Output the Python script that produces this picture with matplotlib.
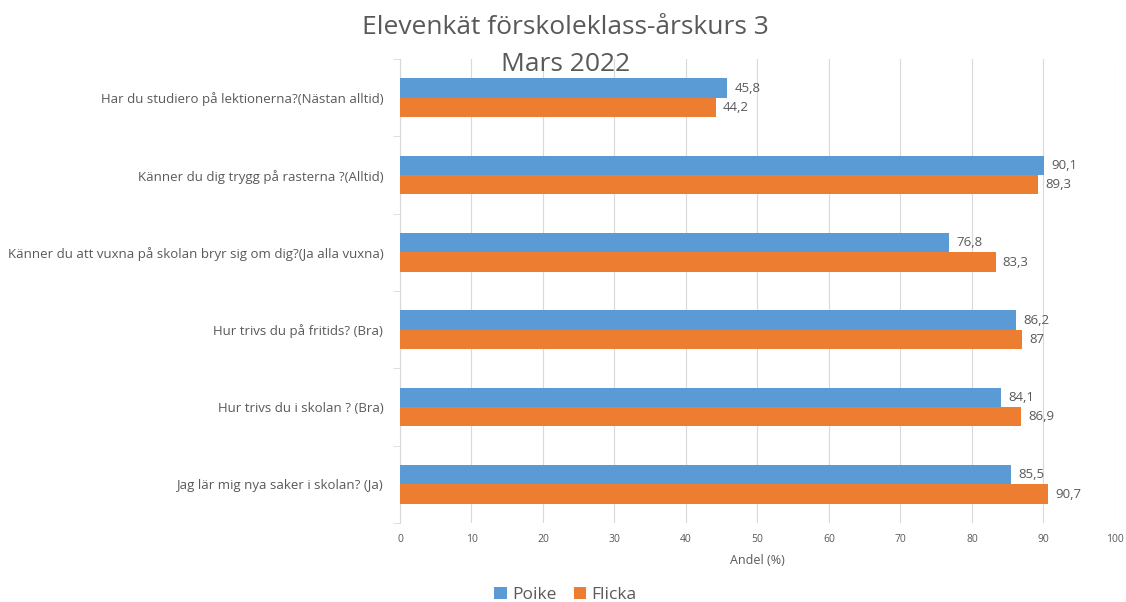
import numpy as np
import matplotlib.pyplot as plt
from matplotlib.ticker import FixedLocator

questions = [
    'Har du studiero på lektionerna?(Nästan alltid)',
    'Känner du dig trygg på rasterna ?(Alltid)',
    'Känner du att vuxna på skolan bryr sig om dig?(Ja alla vuxna)',
    'Hur trivs du på fritids? (Bra)',
    'Hur trivs du i skolan ? (Bra)',
    'Jag lär mig nya saker i skolan? (Ja)',
]
poike = [45.8, 90.1, 76.8, 86.2, 84.1, 85.5]
flicka = [44.2, 89.3, 83.3, 87, 86.9, 90.7]
poike_labels = ['45,8', '90,1', '76,8', '86,2', '84,1', '85,5']
flicka_labels = ['44,2', '89,3', '83,3', '87', '86,9', '90,7']

blue = '#5B9BD5'
orange = '#ED7D31'
grey = '#595959'

plt.rcParams['font.family'] = ['Open Sans', 'DejaVu Sans']

fig = plt.figure(figsize=(11.26, 6.02), dpi=100)
ax = fig.add_axes([0.3552, 0.131, 0.635, 0.771])

y = np.arange(len(questions))
h = 0.25
b1 = ax.barh(y - h / 2, poike, height=h, color=blue, label='Poike', zorder=3)
b2 = ax.barh(y + h / 2, flicka, height=h, color=orange, label='Flicka', zorder=3)

for rect, txt in zip(b1, poike_labels):
    ax.text(rect.get_width() + 1.0, rect.get_y() + rect.get_height() / 2, txt,
            va='center', ha='left', fontsize=9.5, color=grey)
for rect, txt in zip(b2, flicka_labels):
    ax.text(rect.get_width() + 1.0, rect.get_y() + rect.get_height() / 2, txt,
            va='center', ha='left', fontsize=9.5, color=grey)

ax.set_xlim(0, 100)
ax.set_ylim(len(questions) - 0.5, -0.5)
ax.set_xticks(np.arange(0, 101, 10))
ax.tick_params(axis='x', length=0, labelsize=7.5, colors=grey, pad=8)

ax.set_yticks(y)
ax.set_yticklabels(questions, fontsize=9.5, color=grey)
ax.tick_params(axis='y', which='major', length=0, pad=12)
ax.yaxis.set_minor_locator(FixedLocator(np.arange(-0.5, len(questions), 1)))
ax.tick_params(axis='y', which='minor', length=5, color='#D9D9D9')

ax.grid(axis='x', color='#D9D9D9', linewidth=0.8, zorder=0)
for s in ['top', 'right', 'bottom']:
    ax.spines[s].set_visible(False)
ax.spines['left'].set_color('#D9D9D9')

ax.set_xlabel('Andel (%)', fontsize=9, color=grey, labelpad=6)

fig.text(0.502, 0.955, 'Elevenkät förskoleklass-årskurs 3', ha='center', va='center',
         fontsize=19, color=grey)
fig.text(0.502, 0.893, 'Mars 2022', ha='center', va='center', fontsize=19, color=grey)

fig.legend(handles=[b1, b2], loc='center', bbox_to_anchor=(0.502, 0.012),
           ncol=2, frameon=False, fontsize=12.5, handlelength=0.7, handleheight=0.7,
           columnspacing=1.0, handletextpad=0.3, labelcolor=grey)

fig.savefig('out.png', dpi=100)
